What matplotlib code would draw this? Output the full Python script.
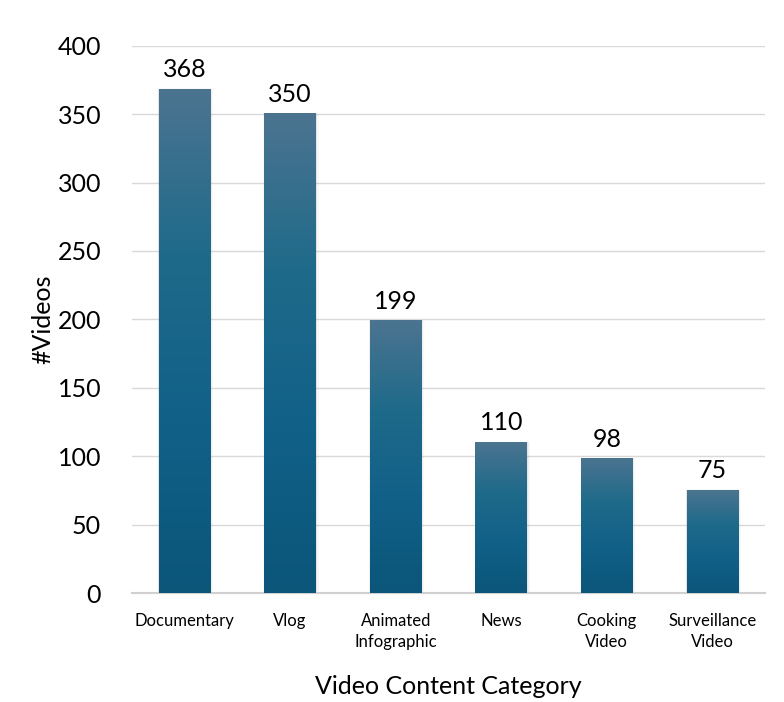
import numpy as np
import matplotlib.pyplot as plt
from matplotlib.colors import LinearSegmentedColormap
from matplotlib.patches import Rectangle

plt.rcParams['font.family'] = ['Lato', 'DejaVu Sans']

categories = ["Documentary", "Vlog", "Animated\nInfographic", "News", "Cooking\nVideo", "Surveillance\nVideo"]
counts = [368, 350, 199, 110, 98, 75]

# gradient: dark at bottom, lighter at top
cmap = LinearSegmentedColormap.from_list("bar", ["#0b5679", "#116088", "#1e6a8a", "#4b7490"])
grad = np.linspace(0, 1, 256).reshape(-1, 1)

fig = plt.figure(figsize=(7.84, 7.02), dpi=100)
ax = fig.add_axes([0.168, 0.155, 0.808, 0.78])

x = np.arange(len(categories))
width = 0.49
for xi, v in zip(x, counts):
    # soft shadow, mostly right side
    for k, a in [(0.025, 0.05), (0.014, 0.07), (0.006, 0.09)]:
        ax.add_patch(Rectangle((xi - width / 2 - k * 0.3, 0), width + k * 1.3, v + k * 30,
                               facecolor="gray", edgecolor="none", alpha=a, zorder=2))
    ax.imshow(grad, cmap=cmap, origin="lower", aspect="auto",
              extent=(xi - width / 2, xi + width / 2, 0, v), zorder=3)
    ax.text(xi, v + 6, str(v), ha="center", va="bottom", fontsize=18, color="black", zorder=4)

ax.set_xlim(-0.5, len(categories) - 0.5)
ax.set_ylim(0, 400)
ax.set_yticks(np.arange(0, 401, 50))
ax.set_xticks(x)
ax.set_xticklabels(categories, fontsize=12, linespacing=1.45)
ax.tick_params(axis="both", length=0)
ax.tick_params(axis="y", labelsize=18, pad=22)
ax.tick_params(axis="x", pad=14)

ax.grid(axis="y", color="#d9d9d9", linewidth=1, zorder=0)
ax.set_axisbelow(True)
for s in ["top", "right", "left"]:
    ax.spines[s].set_visible(False)
ax.spines["bottom"].set_color("#d0d0d0")
ax.spines["bottom"].set_linewidth(1.5)

ax.set_xlabel("Video Content Category", fontsize=18, labelpad=18)
ax.set_ylabel("#Videos", fontsize=18, labelpad=2)

fig.savefig("out.png", dpi=100, facecolor="white")
